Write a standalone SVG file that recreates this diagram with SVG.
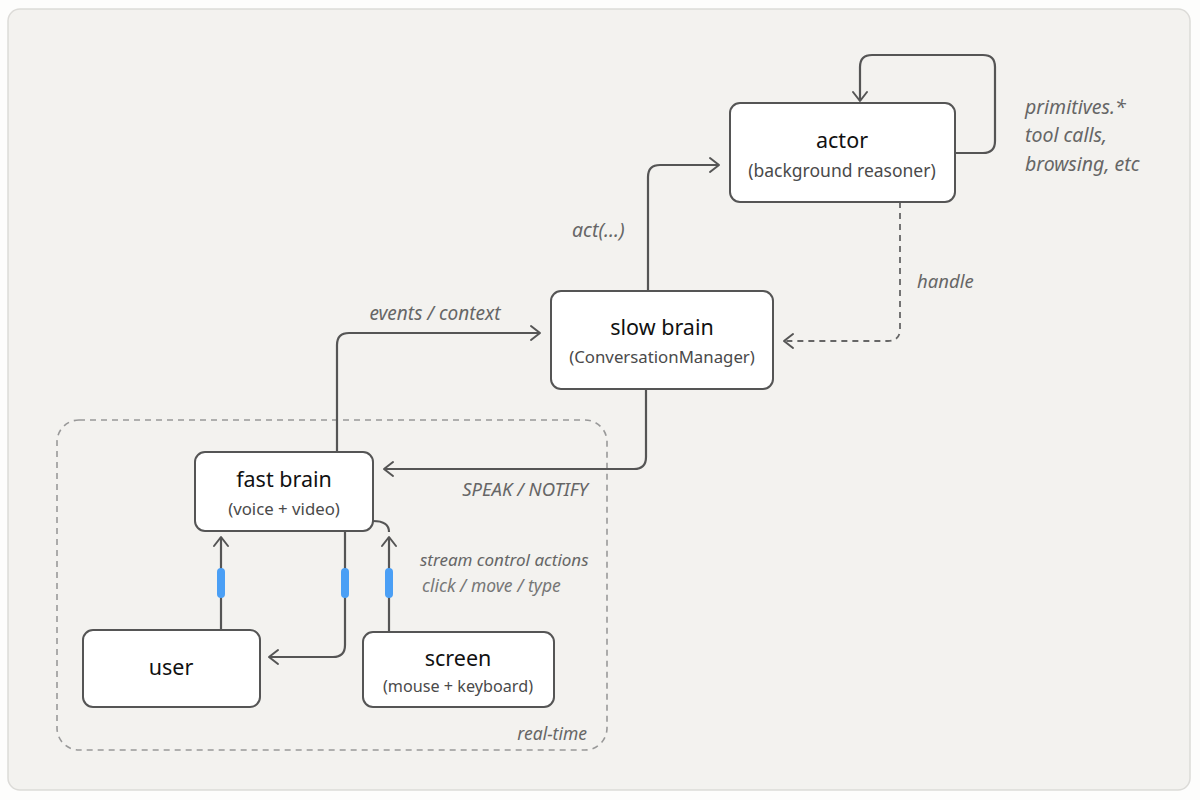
<svg xmlns="http://www.w3.org/2000/svg" width="1200" height="800" viewBox="0 0 1200 800">
<defs>
<marker id="arr" markerUnits="userSpaceOnUse" markerWidth="16" markerHeight="18" refX="10" refY="8" orient="auto" overflow="visible">
<path d="M1,1 L10,8 L1,15" fill="none" stroke="#555" stroke-width="2" stroke-linecap="round" stroke-linejoin="round"/>
</marker>
</defs>
<style>
.box{fill:#fff;stroke:#555;stroke-width:2}
.ln{fill:none;stroke:#555;stroke-width:2.2}
.dash{fill:none;stroke:#666;stroke-width:1.8;stroke-dasharray:6 5}
.t{font-family:"Noto Sans","Liberation Sans",sans-serif;fill:#111;text-anchor:middle}
.title{font-size:21.5px}
.sub{font-size:16.8px;fill:#4a4a4a}
.lab{font-family:"Noto Sans","Liberation Sans",sans-serif;font-style:italic;font-size:17px;fill:#666}
.pill{fill:#4a9ff5}
</style>
<rect x="0" y="0" width="1200" height="800" fill="#fdfdfc"/>
<rect x="8" y="9" width="1182" height="781" rx="12" fill="#f3f2ef" stroke="#dcdbd8" stroke-width="1.5"/>

<rect x="57" y="420" width="550" height="330" rx="22" fill="none" stroke="#999" stroke-width="1.6" stroke-dasharray="6 5"/>
<text class="lab" x="587" y="740" text-anchor="end" style="font-size:17.5px">real-time</text>

<g id="connectors">
<path class="ln" d="M955,153 H983 Q995,153 995,141 V67 Q995,55 983,55 H872 Q860,55 860,67 V101" marker-end="url(#arr)"/>
<path class="ln" d="M648,291 V177 Q648,165 660,165 H719" marker-end="url(#arr)"/>
<path class="dash" d="M900,202 V329 Q900,341 888,341 H784" marker-end="url(#arr)"/>
<path class="ln" d="M337,452 V345 Q337,333 349,333 H540" marker-end="url(#arr)"/>
<path class="ln" d="M646,389 V457 Q646,469 634,469 H384" marker-end="url(#arr)"/>
<path class="ln" d="M221,630 V537" marker-end="url(#arr)"/>
<path class="ln" d="M345,531 V645 Q345,657 333,657 H269" marker-end="url(#arr)"/>
<path class="ln" d="M389,633 V537" marker-end="url(#arr)"/>
<path class="ln" d="M373,521 Q389,521 389,532"/>
<rect class="pill" x="217" y="568" width="8" height="30" rx="4"/>
<rect class="pill" x="341" y="568" width="8" height="30" rx="4"/>
<rect class="pill" x="385" y="568" width="8" height="30" rx="4"/>
</g>

<text class="lab" x="1025" y="114" style="font-size:19.5px">primitives.*</text>
<text class="lab" x="1025" y="142" style="font-size:19.5px">tool calls,</text>
<text class="lab" x="1025" y="171" style="font-size:19.5px">browsing, etc</text>
<text class="lab" x="572" y="237" style="font-size:19.5px">act(...)</text>
<text class="lab" x="917" y="288" style="font-size:18.5px">handle</text>
<text class="lab" x="435" y="320" text-anchor="middle" style="font-size:19px">events / context</text>
<text class="lab" x="588" y="496" text-anchor="end" style="font-size:18.5px">SPEAK / NOTIFY</text>
<text class="lab" x="420" y="566">stream control actions</text>
<text class="lab" x="422" y="592" style="font-size:17.5px;fill:#777">click / move / type</text>

<g id="actor">
<rect class="box" x="730" y="103" width="225" height="99" rx="10"/>
<text class="t title" x="842" y="148">actor</text>
<text class="t sub" x="842" y="177" style="font-size:17.5px">(background reasoner)</text>
</g>
<g id="slow-brain">
<rect class="box" x="551" y="291" width="222" height="98" rx="10"/>
<text class="t title" x="662" y="335">slow brain</text>
<text class="t sub" x="662" y="363">(ConversationManager)</text>
</g>
<g id="fast-brain">
<rect class="box" x="195" y="452" width="178" height="79" rx="10"/>
<text class="t title" x="284" y="487">fast brain</text>
<text class="t sub" x="284" y="515">(voice + video)</text>
</g>
<g id="user">
<rect class="box" x="83" y="630" width="177" height="77" rx="10"/>
<text class="t title" x="171" y="675">user</text>
</g>
<g id="screen">
<rect class="box" x="363" y="632" width="191" height="75" rx="10"/>
<text class="t title" x="458" y="666">screen</text>
<text class="t sub" x="458" y="692" style="font-size:16.2px">(mouse + keyboard)</text>
</g>
</svg>
